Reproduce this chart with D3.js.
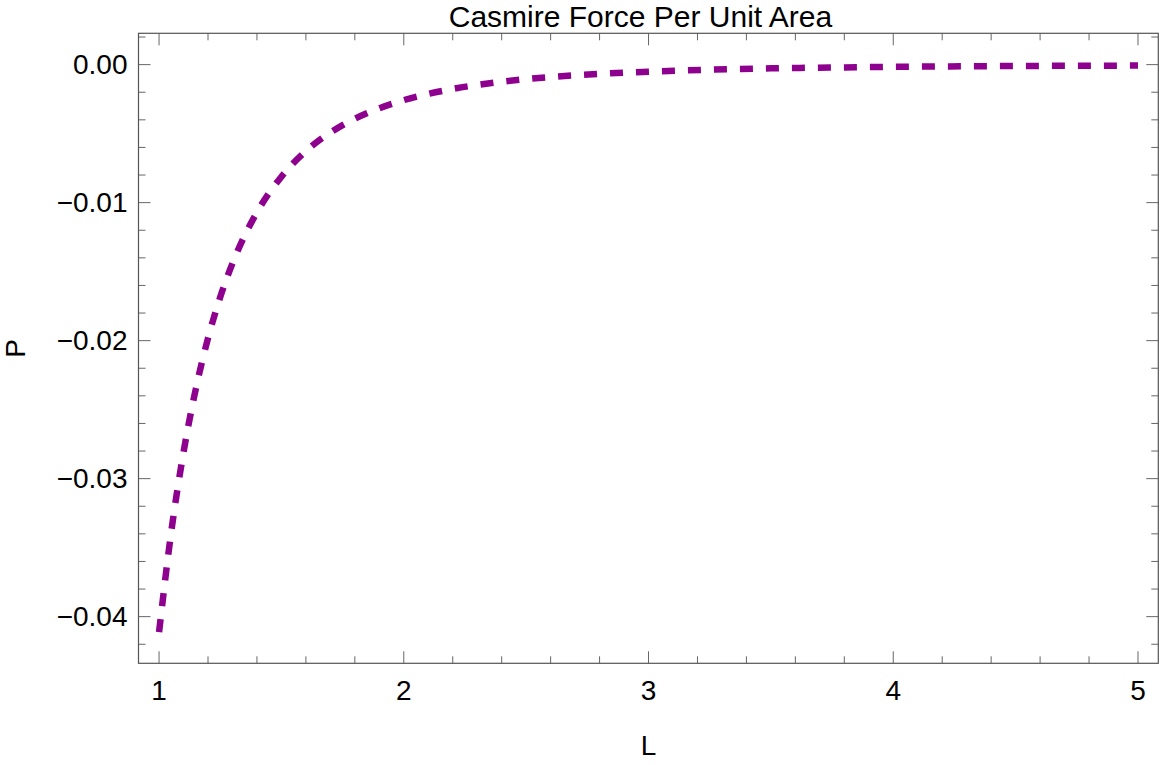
<!DOCTYPE html>
<html>
<head>
<meta charset="utf-8">
<script src="https://cdn.jsdelivr.net/npm/d3@7"></script>
<style>
  html, body { margin: 0; padding: 0; background: #fff; }
  svg { display: block; }
  text { font-family: "Liberation Sans", Arial, sans-serif; fill: #000; }
</style>
</head>
<body>
<svg id="chart" width="1163" height="765"></svg>
<script>
// Data
const lengths = [1.00, 1.05, 1.10, 1.15, 1.20, 1.25, 1.30, 1.35, 1.40, 1.50, 1.60, 1.70, 1.80, 1.90, 2.00, 2.20, 2.40, 2.60, 2.80, 3.00, 3.25, 3.50, 3.75, 4.00, 4.50, 5.00];
const pressures = [-0.04112, -0.03383, -0.02809, -0.02351, -0.01983, -0.01684, -0.01440, -0.01238, -0.01070, -0.00812, -0.00627, -0.00492, -0.00392, -0.00316, -0.00257, -0.00176, -0.00124, -0.00090, -0.00067, -0.00051, -0.00037, -0.00027, -0.00021, -0.00016, -0.00010, -0.00007];
const xTickValues = [1, 2, 3, 4, 5];
const yTickValues = [0, -0.01, -0.02, -0.03, -0.04];
const yTickLabels = ["0.00", "\u22120.01", "\u22120.02", "\u22120.03", "\u22120.04"];
const titleText = "Casmire Force Per Unit Area";
const xLabel = "L";
const yLabel = "P";

const svg = d3.select("#chart");
const pLeft = 138.5, pRight = 1158.3, pTop = 33.3, pBottom = 663.3;

const x = d3.scaleLinear().domain([0.916, 5.083]).range([pLeft, pRight]);
const y = d3.scaleLinear().domain([-0.04338, 0.00227]).range([pBottom, pTop]);

const frameColor = "#555";
const tickColor = "#666";

const g = svg.append("g");

function isMajorX(v){ return Math.abs(v - Math.round(v)) < 1e-6; }
function isMajorY(v){ return Math.abs(v*100 - Math.round(v*100)) < 1e-6; }

// Ticks on all four sides
const xAll = d3.range(0, 21).map(i => 1 + i*0.2);
xAll.forEach(v => {
  const len = isMajorX(v) ? 12 : 7;
  g.append("line").attr("x1", x(v)).attr("x2", x(v)).attr("y1", pBottom).attr("y2", pBottom - len)
    .attr("stroke", tickColor).attr("stroke-width", 1);
  g.append("line").attr("x1", x(v)).attr("x2", x(v)).attr("y1", pTop).attr("y2", pTop + len)
    .attr("stroke", tickColor).attr("stroke-width", 1);
});
const yAll = d3.range(0, 23).map(i => -0.042 + i*0.002);
yAll.forEach(v => {
  const len = isMajorY(v) ? 12 : 7;
  g.append("line").attr("y1", y(v)).attr("y2", y(v)).attr("x1", pLeft).attr("x2", pLeft + len)
    .attr("stroke", tickColor).attr("stroke-width", 1);
  g.append("line").attr("y1", y(v)).attr("y2", y(v)).attr("x1", pRight).attr("x2", pRight - len)
    .attr("stroke", tickColor).attr("stroke-width", 1);
});

// Frame
g.append("rect").attr("x", pLeft).attr("y", pTop).attr("width", pRight - pLeft).attr("height", pBottom - pTop)
  .attr("fill", "none").attr("stroke", frameColor).attr("stroke-width", 1.2);

// Tick labels
xTickValues.forEach(v => {
  g.append("text").attr("x", x(v)).attr("y", pBottom + 37).attr("text-anchor", "middle")
    .attr("font-size", 28).text(String(v));
});
yTickValues.forEach((v, i) => {
  g.append("text").attr("x", pLeft - 11).attr("y", y(v)).attr("dy", "0.35em").attr("text-anchor", "end")
    .attr("font-size", 28).text(yTickLabels[i]);
});

// Curve
const data = lengths.map((L, i) => ({L, P: pressures[i]}));
const line = d3.line().x(d => x(d.L)).y(d => y(d.P)).curve(d3.curveMonotoneX);
svg.append("path").datum(data).attr("d", line)
  .attr("fill", "none").attr("stroke", "#8e008e").attr("stroke-width", 6.5)
  .attr("stroke-dasharray", "13,13").attr("stroke-linecap", "butt");

// Title & axis labels
svg.append("text").attr("x", 640.5).attr("y", 27).attr("text-anchor", "middle")
  .attr("font-size", 30).text(titleText);
svg.append("text").attr("x", x(3)).attr("y", 755).attr("text-anchor", "middle")
  .attr("font-size", 28).text(xLabel);
svg.append("text").attr("transform", `translate(25, ${(pTop + pBottom) / 2}) rotate(-90)`)
  .attr("text-anchor", "middle").attr("font-size", 28).text(yLabel);
</script>
</body>
</html>
